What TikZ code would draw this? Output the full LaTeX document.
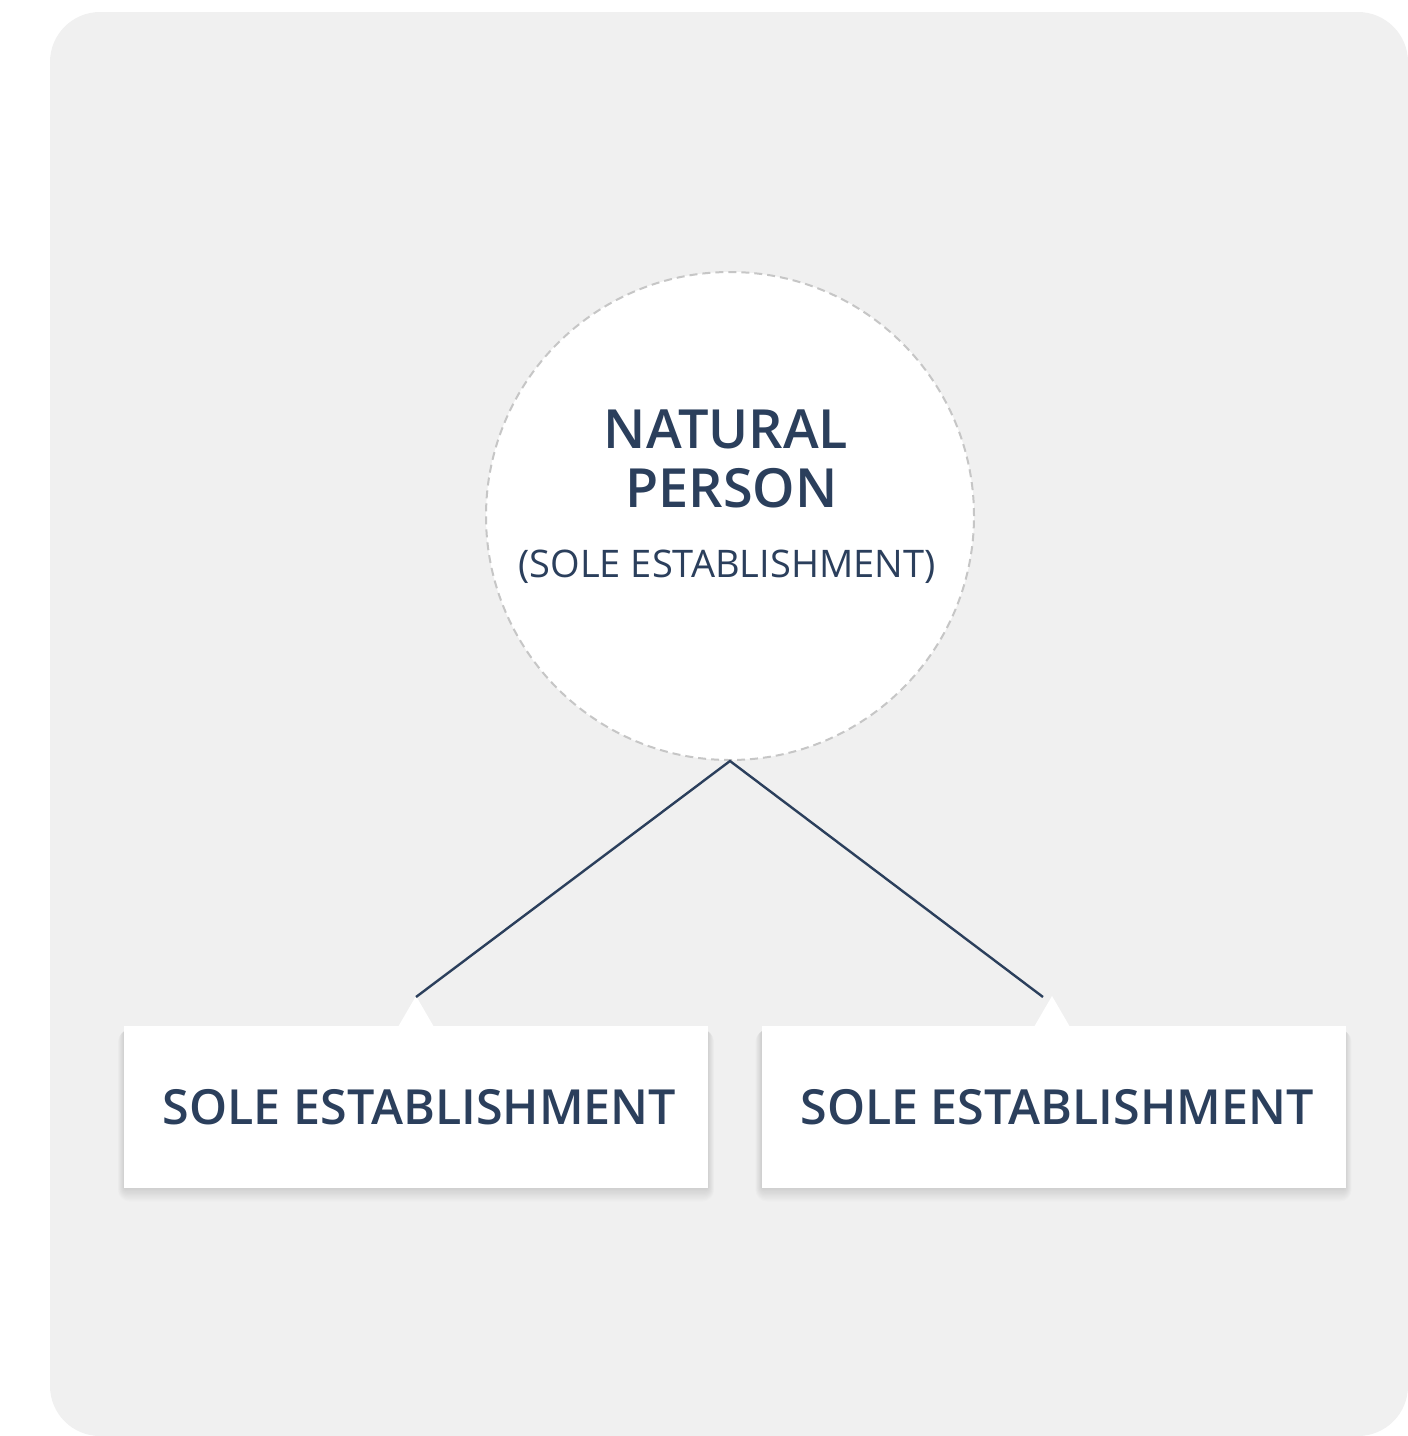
\documentclass[tikz,border=0pt]{standalone}
\usepackage{fontspec}
\setmainfont{Open Sans}[BoldFont={Open Sans Semibold}]
\usepackage{tikz}
\usetikzlibrary{positioning}
\definecolor{navy}{HTML}{2B3F5C}
\definecolor{panel}{HTML}{F0F0F0}
\definecolor{rim}{HTML}{C6C6C6}

\begin{document}
\begin{tikzpicture}[x=1pt,y=-1pt,
  estab/.style={fill=white, inner sep=0pt, text=navy,
    minimum width=584pt, minimum height=162pt,
    font=\fontsize{48.4}{58}\selectfont\bfseries},
  title/.style={anchor=base, text=navy, font=\fontsize{54}{59}\selectfont\bfseries},
  tip/.style={fill=white}]
\useasboundingbox (0,0) rectangle (1408,1436);
\fill[panel, rounded corners=50pt] (50,12) rectangle (1408,1436);

% the person and what it owns
\node (person) [circle, fill=white, draw=rim, dashed, line width=2pt,
  dash pattern=on 8pt off 5pt, minimum size=488pt, inner sep=0pt] at (730,516) {};
\node (name) [title] at (726,448) {NATURAL};
\node (name2) [title] at (731.5,507) {PERSON};
\node (kind) [anchor=base, text=navy, font=\fontsize{38}{44}\selectfont]
  at (727,577) {(SOLE ESTABLISHMENT)};

% soft shadow under the two boxes
\foreach \cx in {416,1053.5}
  \foreach \k in {1,...,12}
    \fill[black, opacity=.011, rounded corners=\k pt]
      (\cx-291-\k*.6,1030) rectangle (\cx+291+\k*.6,1186+\k*1.3);

\node (left) [estab] at (416,1107) {\hspace*{7pt}SOLE ESTABLISHMENT};
\node (right) [estab] at (1053.5,1107) {\hspace*{7pt}SOLE ESTABLISHMENT};
\fill[tip] (398,1027) -- (416,996) -- (434,1027) -- cycle;
\fill[tip] (1034,1027) -- (1052,996) -- (1070,1027) -- cycle;

\coordinate (hitL) at (416,997);
\coordinate (hitR) at (1043,997);
\draw[navy, line width=2.4pt] (hitL) -- (person.south) -- (hitR);
\end{tikzpicture}
\end{document}
